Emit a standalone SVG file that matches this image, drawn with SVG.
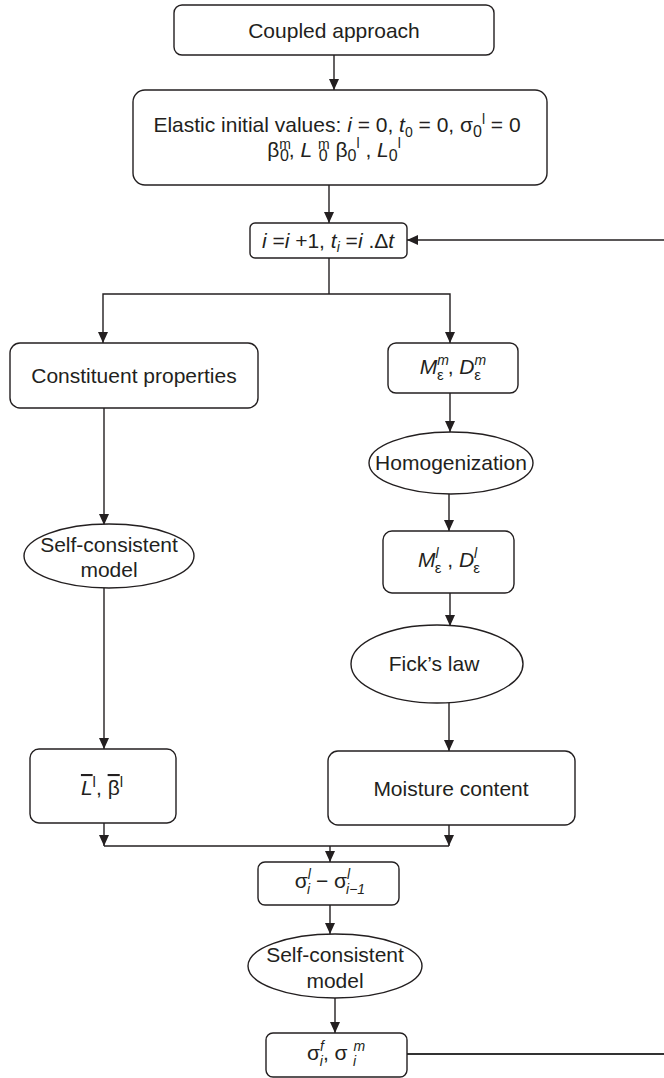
<svg xmlns="http://www.w3.org/2000/svg" width="664" height="1078" viewBox="0 0 664 1078">
<style>
  .bx { fill: #ffffff; stroke: #231f20; stroke-width: 1.4; }
  .el { fill: #ffffff; stroke: #231f20; stroke-width: 1.4; }
  .cn { fill: none; stroke: #231f20; stroke-width: 1.4; }
  .fb { fill: none; stroke: #333333; stroke-width: 1.8; }
  text { font-family: "Liberation Sans", Arial, sans-serif; font-size: 21px; fill: #231f20; }
  .c { text-anchor: middle; }
  .it { font-style: italic; }
  .s { font-size: 14px; }
</style>
<defs>
  <marker id="ah" markerUnits="userSpaceOnUse" markerWidth="11" markerHeight="10" refX="11" refY="5" orient="auto">
    <path d="M0,0 L11,5 L0,10 z" fill="#231f20"/>
  </marker>
</defs>
<rect width="664" height="1078" fill="#ffffff"/>

<g id="connectors">
  <line class="cn" x1="334" y1="55" x2="334" y2="90" marker-end="url(#ah)"/>
  <line class="cn" x1="329" y1="185" x2="329" y2="223" marker-end="url(#ah)"/>
  <line class="cn" x1="329" y1="258" x2="329" y2="294"/>
  <path class="cn" d="M329,294 H103 V343" marker-end="url(#ah)"/>
  <path class="cn" d="M329,294 H450 V343" marker-end="url(#ah)"/>
  <line class="cn" x1="450" y1="393" x2="450" y2="432" marker-end="url(#ah)"/>
  <line class="cn" x1="449" y1="494" x2="449" y2="531" marker-end="url(#ah)"/>
  <line class="cn" x1="450" y1="593" x2="450" y2="626" marker-end="url(#ah)"/>
  <line class="cn" x1="449" y1="703" x2="449" y2="751" marker-end="url(#ah)"/>
  <line class="cn" x1="104" y1="408" x2="104" y2="525" marker-end="url(#ah)"/>
  <line class="cn" x1="104" y1="588" x2="104" y2="749" marker-end="url(#ah)"/>
  <line class="cn" x1="104" y1="823" x2="104" y2="846" marker-end="url(#ah)"/>
  <line class="cn" x1="449" y1="825" x2="449" y2="846" marker-end="url(#ah)"/>
  <line class="cn" x1="104" y1="846" x2="449" y2="846"/>
  <line class="cn" x1="330" y1="846" x2="330" y2="862" marker-end="url(#ah)"/>
  <line class="cn" x1="330" y1="905" x2="330" y2="934" marker-end="url(#ah)"/>
  <line class="cn" x1="335" y1="998" x2="335" y2="1033" marker-end="url(#ah)"/>
  <line class="fb" x1="407" y1="1054" x2="664" y2="1054"/>
  <line class="cn" x1="664" y1="240" x2="407" y2="240" marker-end="url(#ah)"/>
</g>

<g id="coupled">
  <rect class="bx" x="174" y="5" width="320" height="50" rx="8"/>
  <text class="c" x="334" y="38">Coupled approach</text>
</g>

<g id="elastic">
  <rect class="bx" x="133" y="90" width="414" height="95" rx="12"/>
  <text class="c" x="337" y="132">Elastic initial values: <tspan class="it">i</tspan> = 0, <tspan class="it">t</tspan><tspan class="s" font-size="16" dy="5">0</tspan><tspan dy="-5"> = 0, σ</tspan><tspan font-size="16" dy="5">0</tspan><tspan font-size="14" dy="-13">l</tspan><tspan dy="8"> = 0</tspan></text>
  <text class="c" x="334" y="157">β<tspan font-size="14" dy="-8">m</tspan><tspan font-size="16" dx="-11" dy="12">0</tspan><tspan dy="-4">, </tspan><tspan class="it">L</tspan> <tspan font-size="14" dy="-8">m</tspan><tspan font-size="16" dx="-11" dy="12">0</tspan><tspan dy="-4" dx="2"> β</tspan><tspan font-size="16" dy="4">0</tspan><tspan font-size="14" dy="-13">l</tspan><tspan dy="9"> , </tspan><tspan class="it">L</tspan><tspan font-size="16" dy="4">0</tspan><tspan font-size="14" dy="-13">l</tspan></text>
</g>

<g id="increment">
  <rect class="bx" x="250" y="223" width="157" height="35" rx="5"/>
  <text class="c" x="328" y="248"><tspan class="it">i</tspan> =<tspan class="it">i</tspan> +1, <tspan class="it">t</tspan><tspan class="it" font-size="14" dy="4">i</tspan><tspan dy="-4"> =</tspan><tspan class="it">i</tspan> .Δ<tspan class="it">t</tspan></text>
</g>

<g id="constituent">
  <rect class="bx" x="10" y="343" width="248" height="65" rx="10"/>
  <text class="c" x="134" y="383">Constituent properties</text>
</g>

<g id="mm">
  <rect class="bx" x="388" y="343" width="130" height="50" rx="8"/>
  <text class="c" x="453" y="374"><tspan class="it">M</tspan><tspan class="it" font-size="14" dy="-9">m</tspan><tspan font-size="15" dx="-12" dy="15">ε</tspan><tspan dy="-6" dx="4">, </tspan><tspan class="it">D</tspan><tspan class="it" font-size="14" dy="-9">m</tspan><tspan font-size="15" dx="-12" dy="15">ε</tspan></text>
</g>

<g id="homogenization">
  <ellipse class="el" cx="451" cy="463" rx="82" ry="31"/>
  <text class="c" x="451" y="470">Homogenization</text>
</g>

<g id="ml">
  <rect class="bx" x="383" y="531" width="131" height="62" rx="9"/>
  <text class="c" x="449" y="567"><tspan class="it">M</tspan><tspan class="it" font-size="14" dy="-9">l</tspan><tspan font-size="15" dx="-4" dy="15">ε</tspan><tspan dy="-6"> , </tspan><tspan class="it">D</tspan><tspan class="it" font-size="14" dy="-9">l</tspan><tspan font-size="15" dx="-4" dy="15">ε</tspan></text>
</g>

<g id="fick">
  <ellipse class="el" cx="437" cy="664" rx="86" ry="39"/>
  <text class="c" x="434" y="671">Fick’s law</text>
</g>

<g id="moisture">
  <rect class="bx" x="328" y="751" width="247" height="74" rx="10"/>
  <text class="c" x="451" y="796">Moisture content</text>
</g>

<g id="selfconsistent1">
  <ellipse class="el" cx="109" cy="556" rx="85" ry="32"/>
  <text class="c" x="109" y="552">Self-consistent</text>
  <text class="c" x="109" y="577">model</text>
</g>

<g id="lbeta">
  <rect class="bx" x="30" y="749" width="146" height="74" rx="9"/>
  <text class="c" x="102" y="795"><tspan class="it" text-decoration="overline">L</tspan><tspan font-size="15" dy="-8">l</tspan><tspan dy="8">, </tspan><tspan text-decoration="overline">β</tspan><tspan font-size="15" dy="-8">l</tspan></text>
</g>

<g id="stressinc">
  <rect class="bx" x="258" y="862" width="141" height="43" rx="7"/>
  <text class="c" x="330" y="888">σ<tspan class="it" font-size="14" dy="-9">l</tspan><tspan class="it" font-size="14" dx="-4" dy="15">i</tspan><tspan dy="-6"> − σ</tspan><tspan class="it" font-size="14" dy="-9">l</tspan><tspan class="it" font-size="14" dx="-4" dy="15">i−1</tspan></text>
</g>

<g id="selfconsistent2">
  <ellipse class="el" cx="335" cy="966" rx="87" ry="32"/>
  <text class="c" x="335" y="962">Self-consistent</text>
  <text class="c" x="335" y="988">model</text>
</g>

<g id="stresses">
  <rect class="bx" x="266" y="1033" width="141" height="44" rx="7"/>
  <text class="c" x="336" y="1060">σ<tspan class="it" font-size="14" dy="-9">f</tspan><tspan class="it" font-size="14" dx="-4" dy="15">i</tspan><tspan dy="-6">, σ </tspan><tspan class="it" font-size="14" dy="-9">m</tspan><tspan class="it" font-size="14" dx="-12" dy="15">i</tspan></text>
</g>
</svg>
